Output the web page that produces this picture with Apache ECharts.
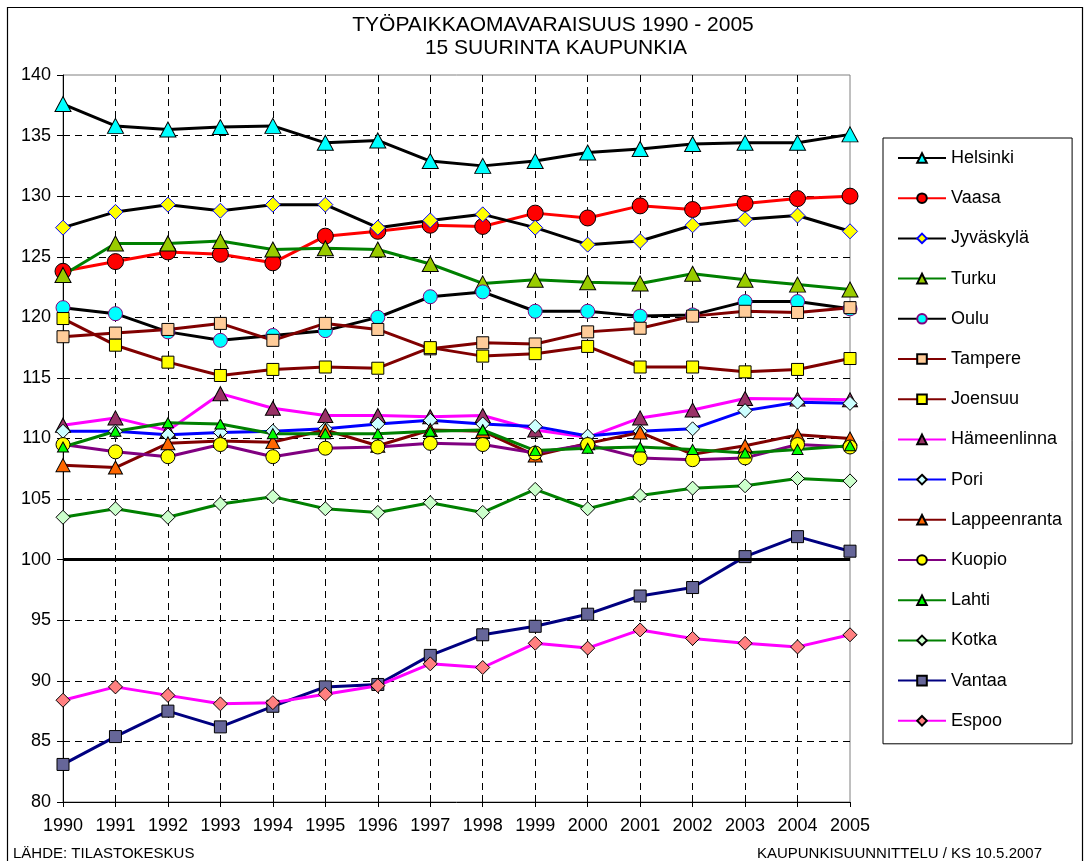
<!DOCTYPE html>
<html>
<head>
<meta charset="utf-8">
<script src="https://cdn.jsdelivr.net/npm/echarts@6/dist/echarts.min.js"></script>
<style>
html,body{margin:0;padding:0;background:#fff;}
#chart{width:1091px;height:861px;}
</style>
</head>
<body>
<div id="chart"></div>
<script>
var years = ['1990','1991','1992','1993','1994','1995','1996','1997','1998','1999','2000','2001','2002','2003','2004','2005'];
var yTicks = {min: 80, max: 140, interval: 5};
var titleLines = ['TYÖPAIKKAOMAVARAISUUS 1990 - 2005', '15 SUURINTA KAUPUNKIA'];
var sourceText = 'LÄHDE: TILASTOKESKUS';
var creditText = 'KAUPUNKISUUNNITTELU / KS 10.5.2007';
var baseline = 100;

var helsinki     = [137.6, 135.8, 135.5, 135.7, 135.8, 134.4, 134.6, 132.9, 132.5, 132.9, 133.6, 133.9, 134.3, 134.4, 134.4, 135.1];
var vaasa        = [123.8, 124.6, 125.4, 125.2, 124.5, 126.7, 127.1, 127.6, 127.5, 128.6, 128.2, 129.2, 128.9, 129.4, 129.8, 130.0];
var jyvaskyla    = [127.4, 128.7, 129.3, 128.8, 129.3, 129.3, 127.4, 128.0, 128.5, 127.4, 126.0, 126.3, 127.6, 128.1, 128.4, 127.1];
var turku        = [123.5, 126.1, 126.1, 126.3, 125.6, 125.7, 125.6, 124.4, 122.8, 123.1, 122.9, 122.8, 123.6, 123.1, 122.7, 122.3];
var oulu         = [120.8, 120.3, 118.8, 118.1, 118.5, 118.9, 120.0, 121.7, 122.1, 120.5, 120.5, 120.1, 120.2, 121.3, 121.3, 120.7];
var tampere      = [118.4, 118.7, 119.0, 119.5, 118.1, 119.5, 119.0, 117.4, 117.9, 117.8, 118.8, 119.1, 120.1, 120.5, 120.4, 120.8];
var joensuu      = [119.9, 117.7, 116.3, 115.2, 115.7, 115.9, 115.8, 117.5, 116.8, 117.0, 117.6, 115.9, 115.9, 115.5, 115.7, 116.6];
var hameenlinna  = [111.1, 111.7, 110.65, 113.7, 112.5, 111.9, 111.9, 111.8, 111.9, 110.7, 110.1, 111.7, 112.35, 113.3, 113.25, 113.2];
var pori         = [110.6, 110.6, 110.3, 110.5, 110.6, 110.8, 111.2, 111.5, 111.2, 111.0, 110.2, 110.6, 110.8, 112.3, 113.0, 112.9];
var lappeenranta = [107.8, 107.6, 109.6, 109.8, 109.7, 110.7, 109.4, 110.7, 110.6, 108.6, 109.6, 110.5, 108.7, 109.4, 110.3, 110.0];
var kuopio       = [109.5, 108.9, 108.5, 109.5, 108.5, 109.2, 109.3, 109.6, 109.5, 108.8, 109.5, 108.4, 108.25, 108.4, 109.5, 109.3];
var lahti        = [109.3, 110.6, 111.3, 111.2, 110.4, 110.4, 110.4, 110.6, 110.7, 109.0, 109.2, 109.3, 109.1, 108.8, 109.1, 109.4];
var kotka        = [103.5, 104.2, 103.5, 104.6, 105.2, 104.2, 103.9, 104.7, 103.9, 105.8, 104.2, 105.3, 105.9, 106.1, 106.7, 106.5];
var vantaa       = [83.1, 85.4, 87.5, 86.2, 87.9, 89.5, 89.7, 92.1, 93.8, 94.5, 95.5, 97.0, 97.7, 100.25, 101.9, 100.7];
var espoo        = [88.4, 89.5, 88.8, 88.1, 88.2, 88.9, 89.6, 91.4, 91.1, 93.1, 92.7, 94.2, 93.5, 93.1, 92.8, 93.8];

var seriesDefs = [
  {name:'Helsinki',     data:helsinki,     line:'#000000', fill:'#00FFFF', border:'#000000', symbol:'triangle', size:[16,15]},
  {name:'Vaasa',        data:vaasa,        line:'#FF0000', fill:'#FF0000', border:'#000000', symbol:'circle',   size:16},
  {name:'Jyväskylä',    data:jyvaskyla,    line:'#000000', fill:'#FFFF00', border:'#0000FF', symbol:'diamond',  size:[15,15]},
  {name:'Turku',        data:turku,        line:'#008000', fill:'#99CC00', border:'#000000', symbol:'triangle', size:[16,15]},
  {name:'Oulu',         data:oulu,         line:'#000000', fill:'#00FFFF', border:'#800080', symbol:'circle',   size:14},
  {name:'Tampere',      data:tampere,      line:'#800000', fill:'#FFCC99', border:'#000000', symbol:'rect',     size:12},
  {name:'Joensuu',      data:joensuu,      line:'#800000', fill:'#FFFF00', border:'#000000', symbol:'rect',     size:12},
  {name:'Hämeenlinna',  data:hameenlinna,  line:'#FF00FF', fill:'#993366', border:'#000000', symbol:'triangle', size:[15,14]},
  {name:'Pori',         data:pori,         line:'#0000FF', fill:'#CCFFFF', border:'#000000', symbol:'diamond',  size:[14,14]},
  {name:'Lappeenranta', data:lappeenranta, line:'#800000', fill:'#FF6600', border:'#000000', symbol:'triangle', size:[14,13]},
  {name:'Kuopio',       data:kuopio,       line:'#800080', fill:'#FFFF00', border:'#000000', symbol:'circle',   size:14},
  {name:'Lahti',        data:lahti,        line:'#008000', fill:'#00FF00', border:'#000000', symbol:'triangle', size:[11,10]},
  {name:'Kotka',        data:kotka,        line:'#008000', fill:'#CCFFCC', border:'#000000', symbol:'diamond',  size:[14,14]},
  {name:'Vantaa',       data:vantaa,       line:'#000080', fill:'#666699', border:'#000000', symbol:'rect',     size:12},
  {name:'Espoo',        data:espoo,        line:'#FF00FF', fill:'#FF8080', border:'#000000', symbol:'diamond',  size:[14,14]}
];

var FONT = '"Liberation Sans", Arial, sans-serif';

var series = seriesDefs.map(function (d, i) {
  var s = {
    name: d.name,
    type: 'line',
    data: d.data,
    symbol: d.symbol,
    symbolSize: d.size,
    showAllSymbol: true,
    lineStyle: {color: d.line, width: 3},
    itemStyle: {color: d.fill, borderColor: d.border, borderWidth: 1},
    emphasis: {disabled: true},
    animation: false
  };
  if (i === 0) {
    s.markLine = {
      silent: true,
      symbol: ['none', 'none'],
      label: {show: false},
      lineStyle: {color: '#000000', width: 3, type: 'solid'},
      data: [{yAxis: baseline}]
    };
  }
  return s;
});

var chart = echarts.init(document.getElementById('chart'), null, {renderer: 'canvas'});
chart.setOption({
  backgroundColor: '#ffffff',
  animation: false,
  textStyle: {fontFamily: FONT},
  grid: {
    left: 63, right: 241, top: 75, bottom: 59,
    show: true, borderColor: '#808080', borderWidth: 1,
    outerBoundsMode: 'none', containLabel: false
  },
  xAxis: {
    type: 'category',
    data: years,
    boundaryGap: false,
    axisLine: {show: true, lineStyle: {color: '#000000', width: 1}},
    axisTick: {show: true, length: 5, inside: false, lineStyle: {color: '#000000'}},
    axisLabel: {color: '#000000', fontSize: 18, fontFamily: FONT, margin: 15, interval: 0},
    splitLine: {show: true, showMinLine: false, showMaxLine: false, lineStyle: {color: '#000000', type: [7, 5], width: 1}}
  },
  yAxis: {
    type: 'value',
    min: yTicks.min, max: yTicks.max, interval: yTicks.interval,
    axisLine: {show: true, lineStyle: {color: '#000000', width: 1}},
    axisTick: {show: true, length: 6, inside: false, lineStyle: {color: '#000000'}},
    axisLabel: {color: '#000000', fontSize: 18, fontFamily: FONT, margin: 12},
    splitLine: {show: true, showMinLine: false, showMaxLine: false, lineStyle: {color: '#000000', type: [7, 5], width: 1}}
  },
  legend: {
    orient: 'vertical',
    left: 883, top: 138,
    padding: [10, 10, 13, 14],
    itemWidth: 48, itemHeight: 12, itemGap: 20.2,
    borderColor: '#000000', borderWidth: 1,
    backgroundColor: '#ffffff',
    selectedMode: false,
    textStyle: {color: '#000000', fontSize: 18, fontFamily: FONT, lineHeight: 20},
    data: seriesDefs.map(function (d) { return d.name; })
  },
  graphic: [
    {type: 'rect', silent: true, z: -1,
     shape: {x: 7.5, y: 7.5, width: 1075, height: 880},
     style: {fill: 'none', stroke: '#000000', lineWidth: 1.2}},
    {type: 'text', silent: true, x: 553, y: 25,
     style: {text: titleLines[0], font: '21px ' + FONT, fill: '#000', textAlign: 'center', textVerticalAlign: 'middle'}},
    {type: 'text', silent: true, x: 556, y: 48,
     style: {text: titleLines[1], font: '21px ' + FONT, fill: '#000', textAlign: 'center', textVerticalAlign: 'middle'}},
    {type: 'text', silent: true, x: 13, y: 854,
     style: {text: sourceText, font: '15px ' + FONT, fill: '#000', textAlign: 'left', textVerticalAlign: 'middle'}},
    {type: 'text', silent: true, x: 1042, y: 854,
     style: {text: creditText, font: '15px ' + FONT, fill: '#000', textAlign: 'right', textVerticalAlign: 'middle'}}
  ],
  series: series
});
</script>
</body>
</html>
